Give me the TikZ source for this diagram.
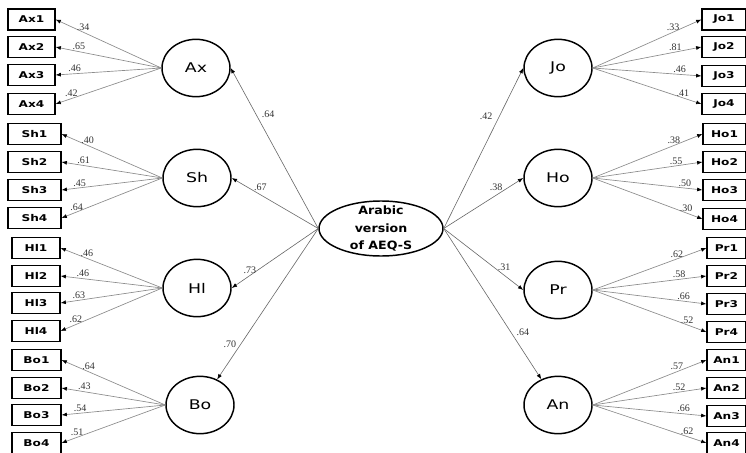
\documentclass[tikz,border=0pt]{standalone}
\usepackage{fontspec}
\setmainfont{Liberation Serif}
\newfontfamily\boxfont[FakeStretch=1.3]{DejaVu Sans}
\newfontfamily\latfont[FakeStretch=1.3]{DejaVu Sans}
\newfontfamily\cenfont[FakeStretch=1.1]{DejaVu Sans}
\usetikzlibrary{shapes.geometric,arrows.meta}
\begin{document}
\begin{tikzpicture}[x=0.75pt,y=-0.75pt,
 lat/.style={ellipse,draw=black,line width=1.1pt,minimum width=51pt,minimum height=43pt,inner sep=0pt,font=\latfont\fontsize{10}{12}\selectfont},
 cen/.style={ellipse,draw=black,line width=1.1pt,minimum width=93pt,minimum height=41.25pt,inner sep=0pt},
 centxt/.style={inner sep=0pt,align=center,font=\cenfont\bfseries\fontsize{8.6}{13.1}\selectfont},
 ind/.style={draw=black,line width=0.8pt,minimum height=15.75pt,inner sep=0pt,font=\boxfont\bfseries\fontsize{7}{8}\selectfont},
 loadarr/.style={draw=black!45,line width=0.5pt,-{Latex[length=4pt,width=3pt,color=black]}},
 struct/.style={draw=black!60,line width=0.45pt,-{Latex[length=4pt,width=3pt,color=black]}},
 lab/.style={font=\fontsize{7.5}{8}\selectfont,text=black!80,inner sep=1pt}
]
\useasboundingbox (0,0) rectangle (746,453);

% central factor
\node[cen] (C) at (381,228.5) {};
\node[centxt] (Ct) at (C.center) {Arabic\\version\\of AEQ-S};

% latent factors
\node[lat] (Ax) at (196,68) {Ax};
\node[lat] (Sh) at (197,178) {Sh};
\node[lat] (Hl) at (197,288) {Hl};
\node[lat] (Bo) at (200,405) {Bo};
\node[lat] (Jo) at (558,68) {Jo};
\node[lat] (Ho) at (558,178) {Ho};
\node[lat] (Pr) at (558,290) {Pr};
\node[lat] (An) at (558,405) {An};

% indicator boxes, left
\foreach \n/\y in {1/19.5,2/47,3/75,4/104}
  \node[ind,minimum width=35.25pt] (Ax\n) at (31.5,\y) {Ax\n};
\foreach \n/\y in {1/134,2/162,3/190,4/218}
  \node[ind,minimum width=39.75pt] (Sh\n) at (34.5,\y) {Sh\n};
\foreach \n/\y in {1/248,2/276,3/303,4/331}
  \node[ind,minimum width=36pt] (Hl\n) at (36,\y) {Hl\n};
\foreach \n/\y in {1/360,2/388,3/415,4/443}
  \node[ind,minimum width=36.75pt] (Bo\n) at (36.5,\y) {Bo\n};

% indicator boxes, right
\foreach \n/\y in {1/19.5,2/47,3/76,4/104}
  \node[ind,minimum width=33pt] (Jo\n) at (724,\y) {Jo\n};
\foreach \n/\y in {1/134,2/162,3/190,4/219}
  \node[ind,minimum width=32.25pt] (Ho\n) at (724.5,\y) {Ho\n};
\foreach \n/\y in {1/248,2/276,3/304,4/332}
  \node[ind,minimum width=29.25pt] (Pr\n) at (726.5,\y) {Pr\n};
\foreach \n/\y in {1/360,2/388,3/416,4/443}
  \node[ind,minimum width=29.25pt] (An\n) at (726.5,\y) {An\n};

% loadings, left
\foreach \n/\l/\p in {1/.34/0.74,2/.65/0.78,3/.46/0.82,4/.42/0.85}
  \draw[loadarr] (Ax.west) -- node[lab,pos=\p,above]{\l} (Ax\n.east);
\foreach \n/\l/\p in {1/.40/0.74,2/.61/0.78,3/.45/0.82,4/.64/0.85}
  \draw[loadarr] (Sh.west) -- node[lab,pos=\p,above]{\l} (Sh\n.east);
\foreach \n/\l/\p in {1/.46/0.74,2/.46/0.78,3/.63/0.82,4/.62/0.85}
  \draw[loadarr] (Hl.west) -- node[lab,pos=\p,above]{\l} (Hl\n.east);
\foreach \n/\l/\p in {1/.64/0.74,2/.43/0.78,3/.54/0.82,4/.51/0.85}
  \draw[loadarr] (Bo.west) -- node[lab,pos=\p,above]{\l} (Bo\n.east);

% loadings, right
\foreach \n/\l/\p in {1/.33/0.74,2/.81/0.76,3/.46/0.8,4/.41/0.83}
  \draw[loadarr] (Jo.east) -- node[lab,pos=\p,above]{\l} (Jo\n.west);
\foreach \n/\l/\p in {1/.38/0.74,2/.55/0.76,3/.50/0.84,4/.30/0.85}
  \draw[loadarr] (Ho.east) -- node[lab,pos=\p,above]{\l} (Ho\n.west);
\foreach \n/\l/\p in {1/.62/0.74,2/.58/0.76,3/.66/0.8,4/.52/0.83}
  \draw[loadarr] (Pr.east) -- node[lab,pos=\p,above]{\l} (Pr\n.west);
\foreach \n/\l/\p in {1/.57/0.74,2/.52/0.76,3/.66/0.8,4/.62/0.83}
  \draw[loadarr] (An.east) -- node[lab,pos=\p,above]{\l} (An\n.west);

% structural paths
\draw[struct] (C.west) -- node[lab,pos=0.71,anchor=west,xshift=3pt]{.64} (Ax.east);
\draw[struct] (C.west) -- node[lab,pos=0.67,anchor=south,yshift=2pt]{.67} (Sh.east);
\draw[struct] (C.west) -- node[lab,pos=0.79,anchor=south]{.73} (Hl.east);
\draw[struct] (C.west) -- node[lab,pos=0.77,anchor=east,xshift=-2pt]{.70} (Bo);
\draw[struct] (C.east) -- node[lab,pos=0.70,anchor=east,xshift=-4pt]{.42} (Jo.west);
\draw[struct] (C.east) -- node[lab,pos=0.66,anchor=south,yshift=2pt]{.38} (Ho.west);
\draw[struct] (C.east) -- node[lab,pos=0.76,anchor=south,yshift=2pt]{.31} (Pr.west);
\draw[struct] (C.east) -- node[lab,pos=0.69,anchor=west,xshift=3pt]{.64} (An);
\end{tikzpicture}
\end{document}
